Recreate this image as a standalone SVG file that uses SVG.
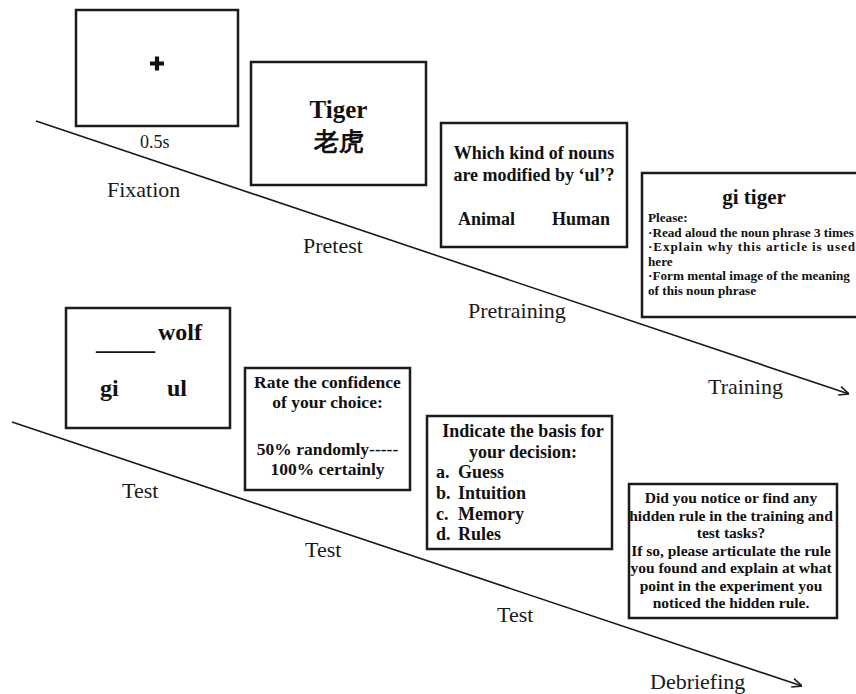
<svg xmlns="http://www.w3.org/2000/svg" width="856" height="694" viewBox="0 0 856 694">
<style>
.box{fill:#fff;stroke:#1a1a1a;stroke-width:2.5}
.tl{stroke:#1a1a1a;stroke-width:1.6;fill:none}
.lbl{font-family:"Liberation Serif","Times New Roman",serif;font-size:22px;fill:#1a1a1a}
.b{font-family:"Liberation Serif","Times New Roman",serif;font-weight:bold;fill:#111}
.c{text-anchor:middle}
</style>
<defs>
<marker id="arr" viewBox="0 0 10 10" refX="10" refY="5" markerWidth="11" markerHeight="11" markerUnits="userSpaceOnUse" orient="auto">
<path d="M1,1 L10,5 L1,9" fill="none" stroke="#1a1a1a" stroke-width="1.4"/>
</marker>
</defs>
<rect width="856" height="694" fill="#fff"/>
<g id="connectors">
<line class="tl" x1="36" y1="121" x2="849" y2="394" marker-end="url(#arr)"/>
<line class="tl" x1="12" y1="422" x2="802" y2="686" marker-end="url(#arr)"/>
</g>
<g id="labels">
<text class="lbl" x="107" y="197">Fixation</text>
<text class="lbl" x="303" y="253">Pretest</text>
<text class="lbl" x="468" y="318">Pretraining</text>
<text class="lbl" x="708" y="394">Training</text>
<text class="lbl" x="122" y="498">Test</text>
<text class="lbl" x="305" y="557">Test</text>
<text class="lbl" x="497" y="622">Test</text>
<text class="lbl" x="650" y="689">Debriefing</text>
</g>
<g id="fixation">
<rect class="box" x="76" y="10" width="162" height="116"/>
<path d="M150,63.5 H164 M157,56.5 V70.5" stroke="#111" stroke-width="4.2" fill="none"/>
<text class="lbl" x="140" y="148" style="font-size:18px">0.5s</text>
</g>
<g id="pretest">
<rect class="box" x="251" y="62" width="175" height="123"/>
<text class="b c" x="338.5" y="118" font-size="25">Tiger</text>
<text class="b c" x="338.5" y="150" font-size="25" font-family="'Noto Sans CJK SC','Liberation Serif',sans-serif">老虎</text>
</g>
<g id="pretraining">
<rect class="box" x="441" y="123" width="186" height="124"/>
<text class="b c" x="534" y="159" font-size="18">Which kind of nouns</text>
<text class="b c" x="534" y="181" font-size="18">are modified by ‘ul’?</text>
<text class="b" x="458" y="225" font-size="18">Animal</text>
<text class="b" x="552" y="225" font-size="18">Human</text>
</g>
<g id="training">
<rect class="box" x="642" y="173" width="220" height="144"/>
<text class="b c" x="754" y="204" font-size="21">gi tiger</text>
<text class="b" x="648" y="222" font-size="13.2">Please:</text>
<text class="b" x="648" y="236.5" font-size="13.2">·Read aloud the noun phrase 3 times</text>
<text class="b" x="648" y="251" font-size="13.2" textLength="207" lengthAdjust="spacing">·Explain why this article is used</text>
<text class="b" x="648" y="265.5" font-size="13.2">here</text>
<text class="b" x="648" y="280" font-size="13.2">·Form mental image of the meaning</text>
<text class="b" x="648" y="294.5" font-size="13.2">of this noun phrase</text>
</g>
<g id="test1">
<rect class="box" x="66" y="308" width="164" height="120"/>
<text class="b" font-size="24"><tspan x="96" y="350" textLength="59" lengthAdjust="spacingAndGlyphs">______</tspan><tspan x="158" y="340">wolf</tspan></text>
<text class="b" x="100" y="396" font-size="24">gi</text>
<text class="b" x="167" y="396" font-size="24">ul</text>
</g>
<g id="test2">
<rect class="box" x="245" y="368" width="165" height="122"/>
<text class="b c" x="327.5" y="388" font-size="17.5">Rate the confidence</text>
<text class="b c" x="327.5" y="408" font-size="17.5">of your choice:</text>
<text class="b c" x="327.5" y="455" font-size="17.5">50% randomly-----</text>
<text class="b c" x="327.5" y="475" font-size="17.5">100% certainly</text>
</g>
<g id="test3">
<rect class="box" x="427" y="416" width="185" height="133"/>
<text class="b c" x="523" y="437" font-size="18">Indicate the basis for</text>
<text class="b c" x="523" y="458" font-size="18">your decision:</text>
<text class="b" x="436" y="478" font-size="18">a.</text><text class="b" x="458" y="478" font-size="18">Guess</text>
<text class="b" x="436" y="499" font-size="18">b.</text><text class="b" x="458" y="499" font-size="18">Intuition</text>
<text class="b" x="436" y="520" font-size="18">c.</text><text class="b" x="458" y="520" font-size="18">Memory</text>
<text class="b" x="436" y="540" font-size="18">d.</text><text class="b" x="458" y="540" font-size="18">Rules</text>
</g>
<g id="debriefing">
<rect class="box" x="629" y="484" width="208" height="134"/>
<text class="b c" x="731" y="503" font-size="15.5">Did you notice or find any</text>
<text class="b c" x="731" y="520.5" font-size="15.5">hidden rule in the training and</text>
<text class="b c" x="731" y="538" font-size="15.5">test tasks?</text>
<text class="b c" x="731" y="555.5" font-size="15.5">If so, please articulate the rule</text>
<text class="b c" x="731" y="573" font-size="15.5">you found and explain at what</text>
<text class="b c" x="731" y="590.5" font-size="15.5">point in the experiment you</text>
<text class="b c" x="731" y="608" font-size="15.5">noticed the hidden rule.</text>
</g>
</svg>
